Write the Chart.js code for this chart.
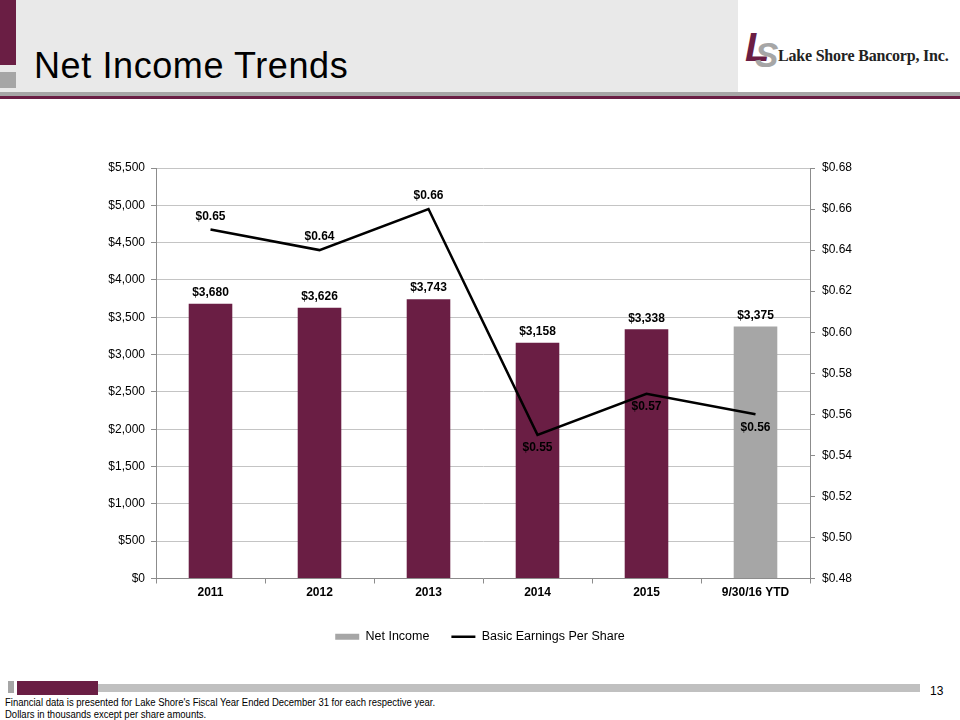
<!DOCTYPE html>
<html>
<head>
<meta charset="utf-8">
<title>Net Income Trends</title>
<script src="https://cdn.jsdelivr.net/npm/chart.js@4.4.1/dist/chart.umd.min.js"></script>
<style>
    html, body { margin: 0; padding: 0; background: #fff; }
    body { width: 960px; height: 720px; position: relative; overflow: hidden; font-family: "Liberation Sans", Arial, sans-serif; }
    .abs { position: absolute; }
    #head-bg { left: 0; top: 0; width: 738px; height: 92px; background: #e9e9e9; }
    #head-maroon { left: 0; top: 0; width: 16px; height: 65px; background: #6a1e44; }
    #head-gray { left: 0; top: 72px; width: 16px; height: 16px; background: #a6a6a6; }
    #rule-gray { left: 0; top: 92px; width: 960px; height: 4px; background: #a6a6a6; }
    #rule-maroon { left: 0; top: 96px; width: 960px; height: 3px; background: #6a1e44; }
    #title { left: 34px; top: 46px; font-size: 36px; letter-spacing: 0.6px; color: #000; line-height: 40px; }
    #logo-l { left: 745px; top: 27px; font: italic bold 40px "Liberation Sans", Arial, sans-serif; color: #6a1e44; line-height: 40px; }
    #logo-s { left: 755px; top: 37px; font: italic bold 35px "Liberation Sans", Arial, sans-serif; color: #a6a6a6; line-height: 35px; }
    #logo-txt { left: 778px; top: 46px; font: bold 16px "Liberation Serif", "Times New Roman", serif; color: #222; line-height: 20px; letter-spacing: -0.2px; }
    #chart-box { left: 0; top: 100px; width: 960px; height: 560px; }
    #foot-gray { left: 8px; top: 681px; width: 6px; height: 12px; background: #a6a6a6; }
    #foot-maroon { left: 17px; top: 681px; width: 81px; height: 14px; background: #6a1e44; }
    #foot-bar { left: 98px; top: 684px; width: 822px; height: 8px; background: #c0c0c0; }
    #page-no { left: 930px; top: 684px; font-size: 12px; color: #000; }
    .note { left: 5px; font-size: 10px; color: #000; white-space: nowrap; transform: scaleX(0.95); transform-origin: left top; }
</style>
</head>
<body>
<div class="abs" id="head-bg"></div>
<div class="abs" id="head-maroon"></div>
<div class="abs" id="head-gray"></div>
<div class="abs" id="rule-gray"></div>
<div class="abs" id="rule-maroon"></div>
<div class="abs" id="title">Net Income Trends</div>
<div class="abs" id="logo-l">L</div>
<div class="abs" id="logo-s">S</div>
<div class="abs" id="logo-txt">Lake Shore Bancorp, Inc.</div>

<div class="abs" id="chart-box"><canvas id="chart" width="960" height="560"></canvas></div>

<div class="abs" id="foot-gray"></div>
<div class="abs" id="foot-maroon"></div>
<div class="abs" id="foot-bar"></div>
<div class="abs" id="page-no">13</div>
<div class="abs note" style="top:697px">Financial data is presented for Lake Shore's Fiscal Year Ended December 31 for each respective year.</div>
<div class="abs note" style="top:709px">Dollars in thousands except per share amounts.</div>

<script>
    // --- Données ---
    const categories = ['2011', '2012', '2013', '2014', '2015', '9/30/16 YTD'];
    const netIncome = [3680, 3626, 3743, 3158, 3338, 3375];
    const basicEps = [0.65, 0.64, 0.66, 0.55, 0.57, 0.56];
    const incomeTicks = { min: 0, max: 5500, step: 500 };
    const epsTicks = { min: 0.48, max: 0.68, step: 0.02 };

    const MAROON = '#6a1e44';
    const GRAY = '#a6a6a6';
    const GRID = '#c4c4c4';
    const AXIS = '#8c8c8c';
    const FONT = '"Liberation Sans", Arial, sans-serif';

    const dollars = v => '$' + Number(v).toLocaleString('en-US');
    const eps = v => '$' + Number(v).toFixed(2);

    // Étiquettes de valeurs (pas de plugin datalabels disponible hors ligne)
    const valueLabels = {
        id: 'valueLabels',
        afterDatasetsDraw(chart, args, opts) {
            const ctx = chart.ctx;
            ctx.save();
            ctx.font = 'bold 12px ' + FONT;
            ctx.fillStyle = '#000';
            ctx.textAlign = 'center';
            ctx.textBaseline = 'middle';
            chart.data.datasets.forEach((ds, i) => {
                const meta = chart.getDatasetMeta(i);
                meta.data.forEach((el, j) => {
                    let dy;
                    if (ds.type === 'bar') {
                        dy = -opts.barGap;
                    } else {
                        dy = opts.linePos[j] === 'below' ? opts.lineBelow : -opts.lineAbove;
                    }
                    const fmt = ds.type === 'bar' ? dollars : eps;
                    ctx.fillText(fmt(ds.data[j]), el.x, el.y + dy);
                });
            });
            ctx.restore();
        }
    };

    new Chart(document.getElementById('chart'), {
        data: {
            labels: categories,
            datasets: [
                {
                    type: 'line',
                    label: 'Basic Earnings Per Share',
                    data: basicEps,
                    yAxisID: 'yEps',
                    borderColor: '#000',
                    backgroundColor: '#000',
                    borderWidth: 2.5,
                    pointRadius: 0,
                    tension: 0,
                    order: 1
                },
                {
                    type: 'bar',
                    label: 'Net Income',
                    data: netIncome,
                    yAxisID: 'y',
                    backgroundColor: netIncome.map((v, i) => i === netIncome.length - 1 ? GRAY : MAROON),
                    borderWidth: 0,
                    categoryPercentage: 1,
                    barPercentage: 0.4,
                    order: 2
                }
            ]
        },
        options: {
            responsive: false,
            animation: false,
            layout: { padding: { left: 60, right: 60, top: 68, bottom: 7 } },
            scales: {
                x: {
                    offset: true,
                    grid: { offset: true, drawOnChartArea: false, drawTicks: true, tickLength: 5, color: AXIS },
                    border: { color: AXIS, width: 1 },
                    ticks: { color: '#000', font: { family: FONT, size: 12, weight: 'bold' }, padding: 2, maxRotation: 0 },
                    afterFit(scale) { scale.height = 30; }
                },
                y: {
                    position: 'left',
                    min: incomeTicks.min,
                    max: incomeTicks.max,
                    ticks: { stepSize: incomeTicks.step, callback: dollars, color: '#000', font: { family: FONT, size: 12 }, padding: 6 },
                    grid: { color: GRID, tickLength: 5, tickColor: AXIS },
                    border: { color: AXIS, width: 1 },
                    afterFit(scale) { scale.width = 96; }
                },
                yEps: {
                    position: 'right',
                    min: epsTicks.min,
                    max: epsTicks.max,
                    ticks: { stepSize: epsTicks.step, callback: eps, color: '#000', font: { family: FONT, size: 12 }, padding: 7 },
                    grid: { drawOnChartArea: false, tickLength: 5, color: AXIS },
                    border: { color: AXIS, width: 1 },
                    afterFit(scale) { scale.width = 90; }
                }
            },
            plugins: {
                tooltip: { enabled: false },
                legend: {
                    position: 'bottom',
                    labels: {
                        usePointStyle: true,
                        pointStyleWidth: 24,
                        boxHeight: 6,
                        padding: 22,
                        color: '#333',
                        font: { family: FONT, size: 12.5 },
                        generateLabels() {
                            return [
                                { text: 'Net Income', fillStyle: GRAY, strokeStyle: GRAY, lineWidth: 0, pointStyle: 'rect', datasetIndex: 1 },
                                { text: 'Basic Earnings Per Share', fillStyle: '#000', strokeStyle: '#000', lineWidth: 2.5, pointStyle: 'line', datasetIndex: 0 }
                            ];
                        }
                    }
                },
                valueLabels: {
                    barGap: 11,
                    lineAbove: 13,
                    lineBelow: 13,
                    linePos: ['above', 'above', 'above', 'below', 'below', 'below']
                }
            }
        },
        plugins: [valueLabels]
    });
</script>
</body>
</html>
